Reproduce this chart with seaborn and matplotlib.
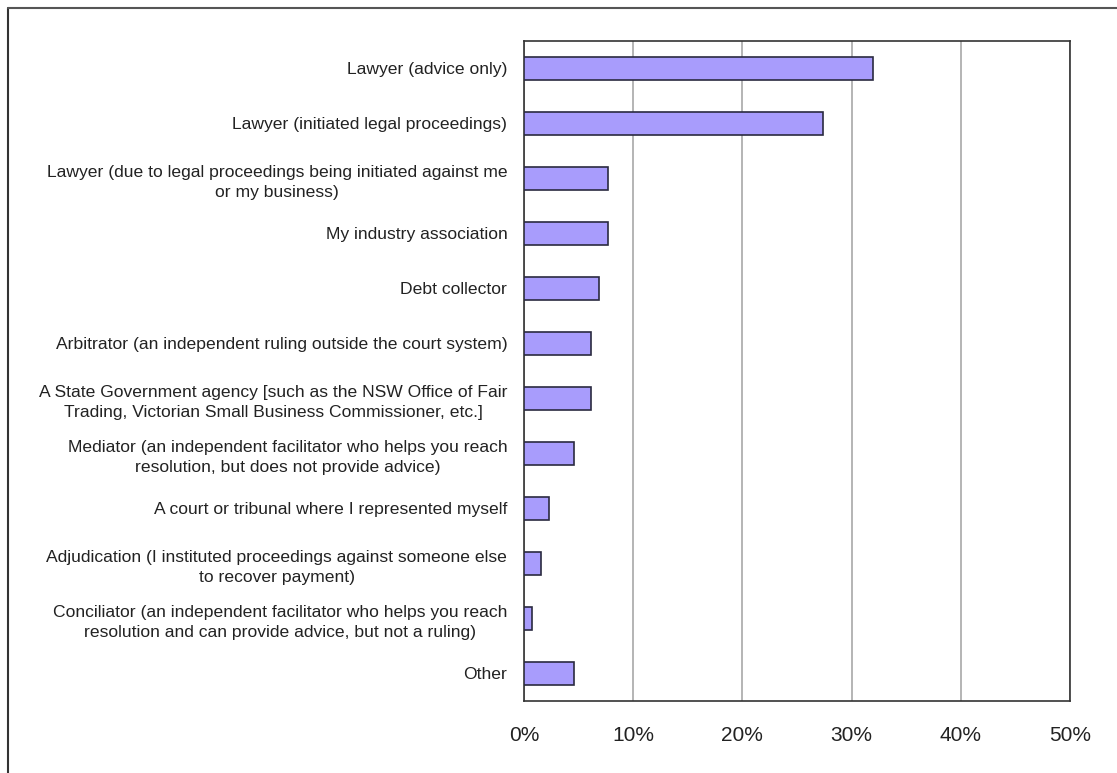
import matplotlib
matplotlib.use("Agg")
import matplotlib.pyplot as plt
import seaborn as sns
import pandas as pd
from matplotlib.lines import Line2D

categories = [
    "Lawyer (advice only)",
    "Lawyer (initiated legal proceedings)",
    "Lawyer (due to legal proceedings being initiated against me\nor my business)",
    "My industry association",
    "Debt collector",
    "Arbitrator (an independent ruling outside the court system)",
    "A State Government agency [such as the NSW Office of Fair\nTrading, Victorian Small Business Commissioner, etc.]",
    "Mediator (an independent facilitator who helps you reach\nresolution, but does not provide advice)",
    "A court or tribunal where I represented myself",
    "Adjudication (I instituted proceedings against someone else\nto recover payment)",
    "Conciliator (an independent facilitator who helps you reach\nresolution and can provide advice, but not a ruling)",
    "Other",
]
values = [32.0, 27.4, 7.7, 7.7, 6.9, 6.1, 6.1, 4.6, 2.3, 1.6, 0.7, 4.6]
xticks = [0, 10, 20, 30, 40, 50]
xtick_labels = ["0%", "10%", "20%", "30%", "40%", "50%"]

df = pd.DataFrame({"category": categories, "value": values})

sns.set_style("white")
plt.rcParams["font.family"] = ["Liberation Sans", "DejaVu Sans"]

fig = plt.figure(figsize=(11.17, 7.73), dpi=100)
ax = fig.add_axes([524 / 1117, 1 - 700.7 / 773, (1070 - 524) / 1117, (700.7 - 41) / 773])

sns.barplot(data=df, x="value", y="category", orient="h", color="#A89CFC",
            edgecolor="#2a2a40", linewidth=1.2, width=0.42, saturation=1, ax=ax, zorder=3)

ax.set_xlim(0, 50)
ax.set_xticks(xticks)
ax.set_xticklabels(xtick_labels, fontsize=15, color="#222222")
ax.xaxis.grid(True, color="#a8a8a8", linewidth=1.2, zorder=0)
ax.set_axisbelow(True)
ax.tick_params(axis="x", length=0, pad=18)
ax.tick_params(axis="y", length=0, pad=12, labelsize=12.6, labelcolor="#222222")
for lbl in ax.get_yticklabels():
    lbl.set_horizontalalignment("right")
    lbl.set_multialignment("center")
    lbl.set_linespacing(1.4)
ax.set_xlabel("")
ax.set_ylabel("")
for s in ax.spines.values():
    s.set_visible(True)
    s.set_color("#333333")
    s.set_linewidth(1.2)

# outer frame (left and top edges visible)
fig.add_artist(Line2D([8 / 1117, 8 / 1117], [0, 1 - 8 / 773], transform=fig.transFigure,
                      color="#333333", linewidth=1.5))
fig.add_artist(Line2D([8 / 1117, 1], [1 - 8 / 773, 1 - 8 / 773], transform=fig.transFigure,
                      color="#555555", linewidth=1.5))

fig.savefig("out.png", dpi=100, facecolor="white")
